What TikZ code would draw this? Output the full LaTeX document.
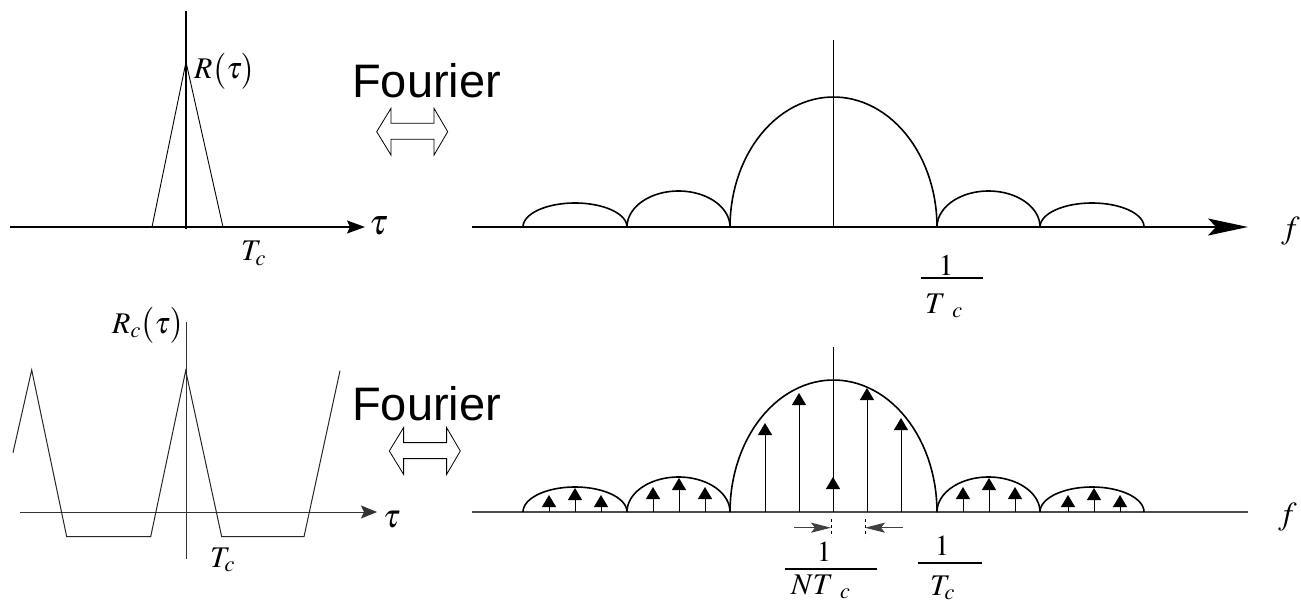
\documentclass[tikz,border=0pt]{standalone}
\usepackage{mathptmx}
\usepackage{fontspec}
\setmainfont{Liberation Serif}
\newfontfamily\arialfont{Liberation Sans}
\usetikzlibrary{arrows.meta}

\tikzset{
    lbl/.style={inner sep=0pt, font=\fontsize{30}{34}\selectfont},
    biglbl/.style={inner sep=0pt, font=\fontsize{36}{40}\selectfont},
    fourier/.style={inner sep=0pt, font=\arialfont\fontsize{47}{52}\selectfont},
    lobe/.style={line width=1.6pt},
    spike/.style={line width=0.9pt, -{Triangle[width=14pt,length=12pt]}},
    dimarrow/.style={line width=0.9pt, black!75, -{Stealth[length=20pt,width=10pt,inset=4pt]}},
}

\begin{document}
\begin{tikzpicture}[x=1pt, y=-1pt]
    \useasboundingbox (0,0) rectangle (1301,604);

    % 1. Ham R(tau) phia tren
    \draw[line width=1.2pt, -{Stealth[length=18pt,width=13pt,inset=3pt]}] (10,227) -- (365,227);
    \draw[line width=2pt] (186,11) -- (186,229);
    \draw[line width=0.9pt] (152,227) -- (186,62) -- (223,227);
    \node[lbl, anchor=base west] (Rtop) at (194,79) {$R\bigl(\tau\bigr)$};
    \node[lbl, anchor=base west] (Tctop) at (241,261) {$T_c$};
    \node[biglbl, anchor=base west] (tautop) at (369,235) {$\tau$};

    % 2. Chu Fourier va mui ten hai chieu
    \node[fourier, anchor=base west] (fourA) at (352,98) {Fourier};
    \node[fourier, anchor=base west] (fourB) at (352,420) {Fourier};
    \foreach \x/\y in {376.7/131.7, 389.3/451} {
        \draw[line width=0.8pt] (\x,\y) -- ++(14.3,-23.4) -- ++(0,15) -- ++(43,0)
            -- ++(0,-15) -- ++(13.7,23.4) -- ++(-13.7,23.4) -- ++(0,-15.8)
            -- ++(-43,0) -- ++(0,15.8) -- cycle;
    }

    % 3. Pho phia tren
    \draw[line width=1.4pt, -{Stealth[length=40pt,width=17pt,inset=8pt]}] (472,227) -- (1248,227);
    \draw[line width=0.8pt] (833.5,40) -- (833.5,227);
    \foreach \c/\r/\h in {575/52/24, 678.5/51.5/36, 833.5/103.5/130, 988.5/51.5/36, 1092/52/24} {
        \draw[lobe, domain=0:180, samples=60] plot ({\c+\r*cos(\x)}, {227-\h*sin(\x)});
    }
    \node[lbl, font=\fontsize{32}{36}\selectfont, anchor=base west] (ftop) at (1281,239) {$f$};
    \node[lbl, font=\fontsize{30}{34}\selectfont, anchor=base] (oneA) at (946,275) {$1$};
    \draw[line width=1.2pt] (920.7,278) -- (983.3,278);
    \node[lbl, anchor=base west] (TcA) at (925,313) {$T\;{}_c$};

    % 4. Ham R_c(tau) phia duoi
    \draw[line width=1pt, black!80, -{Stealth[length=16pt,width=13pt,inset=3pt]}] (20,512) -- (377,512);
    \draw[line width=1pt, black!80] (186,322) -- (186,559);
    \draw[line width=1pt, black!85] (13,452.7) -- (31.7,370) -- (66.7,536.7) -- (150.7,536.7)
        -- (185.7,370.7) -- (221.7,536.7) -- (304,536.7) -- (340,370.7);
    \node[lbl, anchor=base west] (Rbot) at (112,333) {$R_c\bigl(\tau\bigr)$};
    \node[lbl, anchor=base west] (Tcbot) at (210,567) {$T_c$};
    \node[lbl, font=\fontsize{33}{36}\selectfont, anchor=base west] (taubot) at (383,527) {$\tau$};

    % 5. Pho vach phia duoi
    \draw[line width=1.2pt, black!70] (472,512) -- (1248,512);
    \draw[line width=0.8pt] (833,347) -- (833,512);
    \foreach \c/\r/\h in {575/52/25, 678.5/51.5/35, 833.5/103.5/132, 988.5/51.5/35, 1092/52/25} {
        \draw[lobe, domain=0:180, samples=60] plot ({\c+\r*cos(\x)}, {512-\h*sin(\x)});
    }
    \foreach \x/\y in {765/423, 799/393, 833/477, 867/388, 901/418,
                       549/495, 575/488, 601/495, 653/487, 679/478, 705/487,
                       963/487, 989/478, 1015/487, 1068/495, 1094/488, 1120/495} {
        \draw[spike] (\x,512) -- (\x,\y);
    }
    \node[lbl, font=\fontsize{32}{36}\selectfont, anchor=base west] (fbot) at (1278,524) {$f$};

    % 6. Khoang cach 1/NT_c va 1/T_c
    \draw[dimarrow] (794,527.7) -- (831,527.7);
    \draw[dimarrow] (902.6,527.7) -- (865,527.7);
    \draw[line width=0.9pt, dash pattern=on 3pt off 3pt] (831,519) -- (831,537);
    \draw[line width=0.9pt, dash pattern=on 3pt off 3pt] (865,519) -- (865,537);
    \node[lbl, font=\fontsize{29}{32}\selectfont, anchor=base] (oneB) at (824,561) {$1$};
    \draw[line width=1.2pt] (785,569) -- (877,569);
    \node[lbl, anchor=base west] (NTc) at (791,594) {$NT\;{}_c$};
    \node[lbl, font=\fontsize{29}{32}\selectfont, anchor=base] (oneC) at (942,555) {$1$};
    \draw[line width=1.2pt] (918,563) -- (982,563);
    \node[lbl, anchor=base west] (TcC) at (930,595) {$T_c$};
\end{tikzpicture}
\end{document}
